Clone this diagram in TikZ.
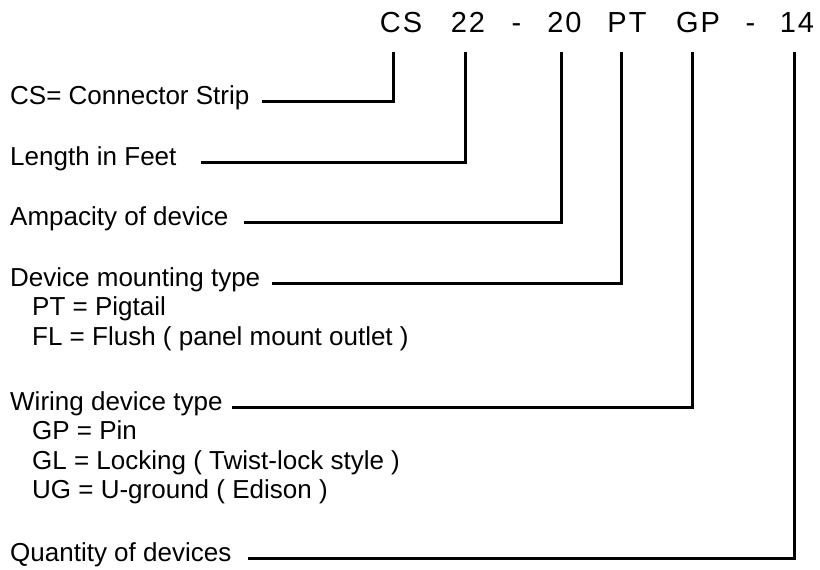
\documentclass[tikz,border=0pt]{standalone}
\usepackage{fontspec}
\setmainfont{Liberation Sans}
\newfontfamily\codefont[LetterSpace=7]{Liberation Sans}
\begin{document}
\begin{tikzpicture}[x={(1pt,0)},y={(0,-1pt)},
  lab/.style={anchor=base west, inner sep=0pt, font=\fontsize{26}{30}\selectfont},
  codetok/.style={anchor=base, inner sep=0pt, font=\codefont\fontsize{29}{33}\selectfont},
  wire/.style={line width=3pt, line join=miter}]
\useasboundingbox (0,0) rectangle (820,570);
% code tokens
\node[codetok] (cs) at (401,32) {CS};
\node[codetok] (len) at (468,32) {22};
\node[codetok] (d1) at (516.5,32) {-};
\node[codetok] (amp) at (564.5,32) {20};
\node[codetok] (pt) at (627,32) {PT};
\node[codetok] (gp) at (698,32) {GP};
\node[codetok] (d2) at (750.5,32) {-};
\node[codetok] (qty) at (797,32) {14};
% labels
\node[lab] (l1) at (10,104) {CS= Connector Strip};
\node[lab] (l2) at (10,165) {Length in Feet};
\node[lab] (l3) at (10,225) {Ampacity of device};
\node[lab] (l4) at (10,286) {Device mounting type};
\node[lab] (l4a) at (32,315.5) {PT = Pigtail};
\node[lab] (l4b) at (32,345) {FL = Flush ( panel mount outlet )};
\node[lab] (l5) at (10,410) {Wiring device type};
\node[lab] (l5a) at (32,439.5) {GP = Pin};
\node[lab] (l5b) at (32,469) {GL = Locking ( Twist-lock style )};
\node[lab] (l5c) at (32,498.5) {UG = U-ground ( Edison )};
\node[lab] (l6) at (10,561) {Quantity of devices};
% connector ends
\coordinate (t1) at (393,52);
\coordinate (t2) at (465,52);
\coordinate (t3) at (561,52);
\coordinate (t4) at (621,52);
\coordinate (t5) at (692,52);
\coordinate (t6) at (794,52);
\coordinate (s1) at (262,101);
\coordinate (s2) at (201,162);
\coordinate (s3) at (244,222);
\coordinate (s4) at (272,283);
\coordinate (s5) at (232,407);
\coordinate (s6) at (248,558);
\draw[wire] (s1) -| (t1);
\draw[wire] (s2) -| (t2);
\draw[wire] (s3) -| (t3);
\draw[wire] (s4) -| (t4);
\draw[wire] (s5) -| (t5);
\draw[wire] (s6) -| (t6);
\end{tikzpicture}
\end{document}
